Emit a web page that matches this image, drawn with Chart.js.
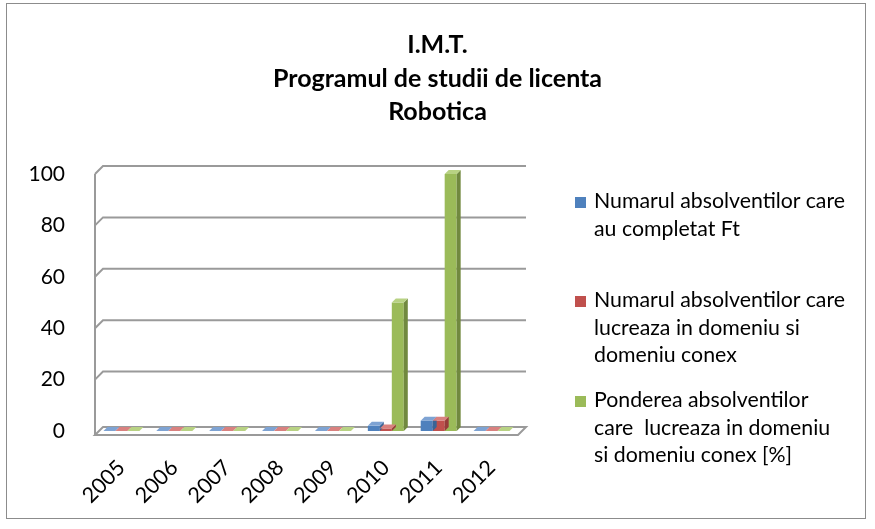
<!DOCTYPE html>
<html>
<head>
<meta charset="utf-8">
<script src="https://cdn.jsdelivr.net/npm/chart.js@4.4.1/dist/chart.umd.min.js"></script>
<style>
  html, body { margin: 0; padding: 0; background: #fff; }
  #wrap { position: relative; width: 875px; height: 529px; font-family: Lato, "Noto Sans", sans-serif; }
  #frame { position: absolute; left: 6px; top: 3px; width: 860px; height: 516px; border: 1.5px solid #8c8c8c; box-sizing: border-box; }
  canvas { position: absolute; left: 0; top: 0; }
  #title { position: absolute; left: 0; top: 27px; width: 875px; text-align: center; font-weight: bold; font-size: 25px; line-height: 33.5px; color: #000; }
  #legend { position: absolute; left: 575px; top: 0; }
  .item { position: absolute; left: 0; width: 295px; }
  .sw { position: absolute; left: 0; width: 11px; height: 11px; }
  .txt { position: absolute; left: 19px; font-size: 21.3px; line-height: 27.5px; color: #000; white-space: nowrap; }
</style>
</head>
<body>
<div id="wrap">
  <div id="frame"></div>
  <canvas id="c" width="875" height="529"></canvas>
  <div id="title"></div>
  <div id="legend"></div>
</div>
<script>
const years = ['2005', '2006', '2007', '2008', '2009', '2010', '2011', '2012'];
const completatFt = [0, 0, 0, 0, 0, 2, 4, 0];
const lucreazaDomeniu = [0, 0, 0, 0, 0, 1, 4, 0];
const pondere = [0, 0, 0, 0, 0, 50, 100, 0];
const titleLines = ['I.M.T.', 'Programul de studii de licenta', 'Robotica'];
const seriesNames = [
  ['Numarul absolventilor care', 'au completat Ft'],
  ['Numarul absolventilor care', 'lucreaza in domeniu si', 'domeniu conex'],
  ['Ponderea absolventilor', 'care  lucreaza in domeniu', 'si domeniu conex [%]']
];
const yTicks = [0, 20, 40, 60, 80, 100];

const colors = ['#4f81bd', '#c0504d', '#9bbb59'];
const sideColors = ['#3a6496', '#983c3a', '#71893f'];
const topColors = ['#7ea3d3', '#d9817f', '#b8d283'];

document.getElementById('title').innerHTML = titleLines.join('<br>');

// HTML legend
const legendTops = [187, 286, 386];
const lg = document.getElementById('legend');
seriesNames.forEach((lines, i) => {
  const it = document.createElement('div');
  it.className = 'item';
  it.style.top = legendTops[i] + 'px';
  const sw = document.createElement('div');
  sw.className = 'sw';
  sw.style.background = colors[i];
  sw.style.top = '10px';
  const tx = document.createElement('div');
  tx.className = 'txt';
  tx.innerHTML = lines.map(l => l.replace(/  /g, ' &nbsp;')).join('<br>');
  it.appendChild(sw);
  it.appendChild(tx);
  lg.appendChild(it);
});

const WALL = 8;   // depth of back wall
const BAR = 4;    // bar depth
const FONT = 'Lato, "Noto Sans", sans-serif';

const wallPlugin = {
  id: 'wall3d',
  beforeDatasetsDraw(chart) {
    const ctx = chart.ctx;
    const y = chart.scales.y;
    const a = chart.chartArea;
    ctx.save();
    ctx.strokeStyle = '#9a9a9a';
    ctx.lineWidth = 2;
    const b = y.getPixelForValue(0);
    ctx.fillStyle = '#ffffff';
    ctx.beginPath();
    ctx.moveTo(a.left, b + 4);
    ctx.lineTo(a.left + WALL, b - WALL + 4);
    ctx.lineTo(a.right + WALL, b - WALL + 4);
    ctx.lineTo(a.right, b + 4);
    ctx.closePath();
    ctx.fill();
    ctx.stroke();
    yTicks.forEach(v => {
      if (v === 0) return;
      const py = y.getPixelForValue(v);
      ctx.beginPath();
      ctx.moveTo(a.left, py);
      ctx.lineTo(a.left + WALL, py - WALL);
      ctx.lineTo(a.right + WALL, py - WALL);
      ctx.stroke();
    });
    ctx.beginPath();
    ctx.moveTo(a.left, y.getPixelForValue(100));
    ctx.lineTo(a.left, b + 4);
    ctx.stroke();
    ctx.restore();
  },
  afterDatasetsDraw(chart) {
    const ctx = chart.ctx;
    ctx.save();
    chart.data.datasets.forEach((ds, di) => {
      const meta = chart.getDatasetMeta(di);
      meta.data.forEach(bar => {
        const p = bar.getProps(['x', 'y', 'base', 'width'], true);
        const l = p.x - p.width / 2, r = p.x + p.width / 2;
        ctx.fillStyle = sideColors[di];
        ctx.beginPath();
        ctx.moveTo(r, p.y);
        ctx.lineTo(r + BAR, p.y - BAR);
        ctx.lineTo(r + BAR, p.base - BAR);
        ctx.lineTo(r, p.base);
        ctx.closePath();
        ctx.fill();
        ctx.fillStyle = topColors[di];
        ctx.beginPath();
        ctx.moveTo(l, p.y);
        ctx.lineTo(l + BAR, p.y - BAR);
        ctx.lineTo(r + BAR, p.y - BAR);
        ctx.lineTo(r, p.y);
        ctx.closePath();
        ctx.fill();
      });
    });
    ctx.restore();
  }
};

new Chart(document.getElementById('c'), {
  type: 'bar',
  data: {
    labels: years,
    datasets: [
      { label: seriesNames[0].join(' '), data: completatFt, backgroundColor: colors[0] },
      { label: seriesNames[1].join(' '), data: lucreazaDomeniu, backgroundColor: colors[1] },
      { label: seriesNames[2].join(' '), data: pondere, backgroundColor: colors[2] }
    ]
  },
  options: {
    responsive: false,
    animation: false,
    layout: { padding: { left: 0, right: 357, top: 174, bottom: 0 } },
    datasets: { bar: { barPercentage: 1, categoryPercentage: 0.68 } },
    plugins: {
      legend: { display: false },
      tooltip: { enabled: false },
      title: { display: false }
    },
    scales: {
      x: {
        grid: { display: false },
        border: { display: false },
        ticks: {
          color: '#000',
          font: { family: FONT, size: 21.5 },
          minRotation: 45, maxRotation: 45,
          padding: 16
        },
        afterFit(s) { s.height = 98; }
      },
      y: {
        min: 0, max: 100,
        grid: { display: false },
        border: { display: false },
        ticks: {
          stepSize: 20,
          color: '#000',
          font: { family: FONT, size: 21 },
          padding: 22
        },
        afterFit(s) { s.width = 95; }
      }
    }
  },
  plugins: [wallPlugin]
});
</script>
</body>
</html>
